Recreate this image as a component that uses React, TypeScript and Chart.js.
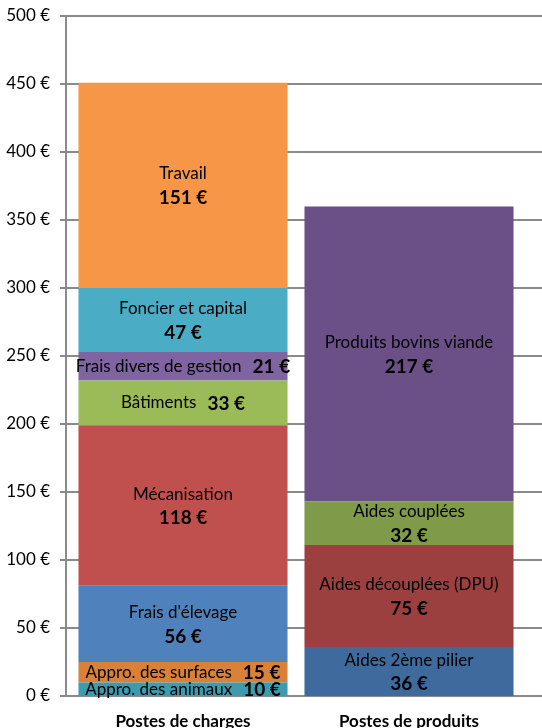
import React, { useEffect, useRef } from "react";
import { Chart, registerables } from "chart.js";

Chart.register(...registerables);

const categories = ["Postes de charges", "Postes de produits"];

const chargeLabels = [
  "Appro. des animaux",
  "Appro. des surfaces",
  "Frais d'élevage",
  "Mécanisation",
  "Bâtiments",
  "Frais divers de gestion",
  "Foncier et capital",
  "Travail",
];
const chargeValues = [10, 15, 56, 118, 33, 21, 47, 151];

const produitLabels = [
  "Aides 2ème pilier",
  "Aides découplées (DPU)",
  "Aides couplées",
  "Produits bovins viande",
];
const produitValues = [36, 75, 32, 217];

const yTickValues = [0, 50, 100, 150, 200, 250, 300, 350, 400, 450, 500];

const chargeColors = ["#3E9AAF", "#DA8139", "#4F81BD", "#C0504D", "#9BBB59", "#8064A2", "#4BACC6", "#F79646"];
const produitColors = ["#3E6A9E", "#9C3F3F", "#7F9A48", "#6A5087"];
const chargeInline = [true, true, false, false, true, true, false, false];
const produitInline = [false, false, false, false];

const FONT = "Lato, 'Open Sans', sans-serif";
const GRID = "#8a8a8a";
const LABEL_SIZE = 17;
const VALUE_SIZE = 19;

export default function App() {
  const ref = useRef<HTMLCanvasElement | null>(null);

  useEffect(() => {
    if (!ref.current) return;
    const datasets: any[] = [];
    chargeLabels.forEach((l, i) => {
      datasets.push({
        label: l,
        data: [chargeValues[i], null],
        backgroundColor: chargeColors[i],
        inline: chargeInline[i],
        stack: "s",
      });
    });
    produitLabels.forEach((l, i) => {
      datasets.push({
        label: l,
        data: [null, produitValues[i]],
        backgroundColor: produitColors[i],
        inline: produitInline[i],
        stack: "s",
      });
    });

    const gridPlugin = {
      id: "gridPlugin",
      beforeDatasetsDraw(chart: any) {
        const { ctx, chartArea } = chart;
        const ys = chart.scales.y;
        ctx.save();
        ctx.strokeStyle = GRID;
        ctx.lineWidth = 2;
        const axisX = chartArea.left - 4;
        for (const v of yTickValues) {
          const y = Math.round(ys.getPixelForValue(v));
          ctx.beginPath();
          ctx.moveTo(axisX - 6, y);
          ctx.lineTo(chart.width, y);
          ctx.stroke();
        }
        ctx.beginPath();
        ctx.moveTo(axisX, ys.getPixelForValue(500));
        ctx.lineTo(axisX, ys.getPixelForValue(0) + 1);
        ctx.stroke();
        ctx.restore();
      },
    };

    const labelPlugin = {
      id: "labelPlugin",
      afterDatasetsDraw(chart: any) {
        const { ctx } = chart;
        ctx.save();
        ctx.fillStyle = "#000";
        ctx.textBaseline = "middle";
        chart.data.datasets.forEach((ds: any, i: number) => {
          const meta = chart.getDatasetMeta(i);
          ds.data.forEach((v: any, j: number) => {
            if (v == null) return;
            const el: any = meta.data[j];
            const cx = el.x;
            const cy = (el.y + el.base) / 2;
            const name = ds.label;
            const val = v + " €";
            const regFont = LABEL_SIZE + "px " + FONT;
            const boldFont = "bold " + VALUE_SIZE + "px " + FONT;
            if (ds.inline) {
              ctx.font = regFont;
              const w1 = ctx.measureText(name).width + 11;
              ctx.font = boldFont;
              const w2 = ctx.measureText(val).width;
              const start = cx - (w1 + w2) / 2;
              ctx.textAlign = "left";
              ctx.font = regFont;
              ctx.fillText(name, start, cy);
              ctx.font = boldFont;
              ctx.fillText(val, start + w1, cy + 0.5);
            } else {
              ctx.textAlign = "center";
              ctx.font = regFont;
              ctx.fillText(name, cx, cy - 11.5);
              ctx.font = boldFont;
              ctx.fillText(val, cx, cy + 12.5);
            }
          });
        });
        ctx.restore();
      },
    };

    const chart = new Chart(ref.current, {
      type: "bar",
      data: { labels: categories, datasets },
      options: {
        responsive: false,
        animation: false,
        devicePixelRatio: 1,
        layout: { padding: { top: 16, right: 20, bottom: 0, left: 0 } },
        plugins: { legend: { display: false }, tooltip: { enabled: false } },
        datasets: { bar: { categoryPercentage: 1, barPercentage: 0.925 } },
        scales: {
          x: {
            stacked: true,
            grid: { display: false },
            border: { display: false },
            ticks: {
              color: "#000",
              padding: 7,
              font: { family: FONT, size: 17, weight: "bold" },
            },
            afterFit(scale: any) {
              scale.height = 32;
              scale.paddingLeft = 0;
              scale.paddingRight = 0;
              scale.paddingTop = 0;
              scale.paddingBottom = 0;
            },
          },
          y: {
            stacked: true,
            min: 0,
            max: 500,
            grid: { display: false },
            border: { display: false },
            ticks: {
              stepSize: 50,
              color: "#000",
              padding: 12,
              font: { family: FONT, size: 17 },
              callback: (v: any) => v + " €",
            },
            afterFit(scale: any) {
              scale.width = 70;
              scale.paddingTop = 0;
              scale.paddingBottom = 0;
            },
          },
        },
      },
      plugins: [gridPlugin, labelPlugin],
    } as any);
    return () => chart.destroy();
  }, []);

  return (
    <div style={{ position: "fixed", left: 0, top: 0, width: 542, height: 728, background: "#fff" }}>
      <canvas ref={ref} width={542} height={728} style={{ width: 542, height: 728 }} />
    </div>
  );
}
